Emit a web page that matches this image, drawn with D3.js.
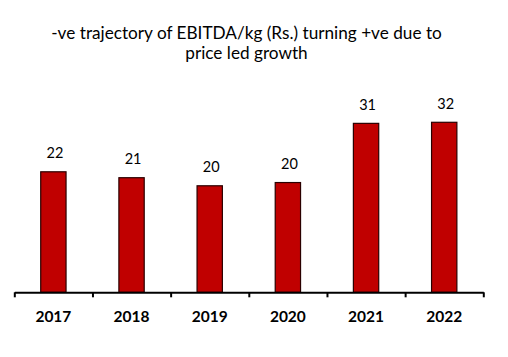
<!DOCTYPE html>
<html>
<head>
<meta charset="utf-8">
<script src="https://cdn.jsdelivr.net/npm/d3@7"></script>
<style>
  html, body { margin: 0; padding: 0; background: #fff; }
  svg { display: block; }
</style>
</head>
<body>
<svg id="chart" width="508" height="357"></svg>
<script>
const titleLines = ["-ve trajectory of EBITDA/kg (Rs.) turning +ve due to", "price led growth"];
const years = ["2017", "2018", "2019", "2020", "2021", "2022"];
const ebitdaPerKg = [22.4, 21.3, 19.8, 20.4, 31.4, 31.6];

const svg = d3.select("#chart");
const left = 14.3, right = 483.3, baseY = 292.3;
const fontFam = "Lato, 'Open Sans', sans-serif";

// Title
svg.append("g").selectAll("text").data(titleLines).join("text")
  .attr("x", 246.5)
  .attr("y", (d, i) => 38.5 + i * 20)
  .attr("text-anchor", "middle")
  .attr("font-family", fontFam)
  .attr("font-size", 17.2)
  .attr("fill", "#000")
  .text(d => d);

// Scales
const x = d3.scaleBand().domain(years).range([left, right])
  .paddingInner(0.676).paddingOuter(0.338);
const y = d3.scaleLinear().domain([0, 35]).range([baseY, baseY - 35 * 5.38]);
const edge = d3.scaleLinear().domain([0, years.length]).range([left, right]);

// Bars
svg.append("g").selectAll("rect").data(years).join("rect")
  .attr("x", d => x(d))
  .attr("width", x.bandwidth())
  .attr("y", (d, i) => y(ebitdaPerKg[i]))
  .attr("height", (d, i) => baseY - y(ebitdaPerKg[i]))
  .attr("fill", "#C00000")
  .attr("stroke", "#2a0000")
  .attr("stroke-width", 1.2);

// Value labels
const fmt = d3.format(".0f");
svg.append("g").selectAll("text").data(years).join("text")
  .attr("x", d => x(d) + x.bandwidth() / 2 + 1.5)
  .attr("y", (d, i) => y(ebitdaPerKg[i]) - 13.3)
  .attr("text-anchor", "middle")
  .attr("font-family", fontFam)
  .attr("font-size", 14.5)
  .attr("fill", "#000")
  .text((d, i) => fmt(ebitdaPerKg[i]));

// Axis with ticks at category boundaries
const axis = d3.axisBottom(edge)
  .tickValues(d3.range(years.length + 1))
  .tickSize(5)
  .tickSizeOuter(0)
  .tickFormat("");
const ax = svg.append("g").attr("transform", `translate(0,${baseY})`).call(axis);
ax.select(".domain").attr("stroke", "#000").attr("stroke-width", 2);
ax.selectAll(".tick line").attr("stroke", "#000").attr("stroke-width", 2);

// Category labels
svg.append("g").selectAll("text").data(years).join("text")
  .attr("x", d => x(d) + x.bandwidth() / 2)
  .attr("y", 322.3)
  .attr("text-anchor", "middle")
  .attr("font-family", fontFam)
  .attr("font-weight", "bold")
  .attr("font-size", 15.5)
  .attr("fill", "#000")
  .text(d => d);
</script>
</body>
</html>
